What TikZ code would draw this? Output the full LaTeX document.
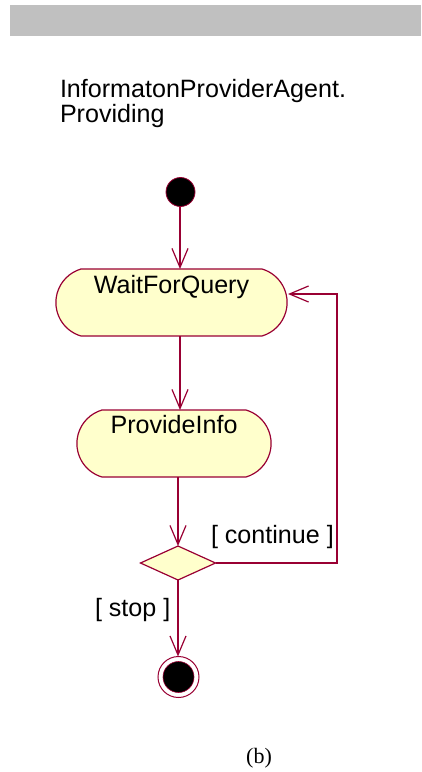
\documentclass[tikz,border=0pt]{standalone}
\usepackage{fontspec}
\setmainfont{Liberation Sans}
\newfontfamily\serifcap{Liberation Serif}
\usetikzlibrary{arrows.meta,calc,shapes.geometric}
\definecolor{umlline}{RGB}{153,0,51}
\definecolor{umlfill}{RGB}{255,255,204}
\definecolor{barfill}{RGB}{192,192,192}
\begin{document}
\begin{tikzpicture}[x=1pt,y=-1pt,
  every node/.style={inner sep=0pt, outer sep=0pt},
  txt/.style={font=\fontsize{25.1}{25}\selectfont, text=black},
  boxarea/.style={minimum width=#1, minimum height=67pt, draw=none},
  statebox/.style={draw=umlline, fill=umlfill, line width=1.2pt},
  flow/.style={draw=umlline, line width=1.2pt, -{Straight Barb[length=19pt,width=16pt,line width=1.2pt]}},
  decision/.style={diamond, draw=umlline, fill=umlfill, line width=1.2pt, minimum width=75pt, minimum height=34pt},
]
\useasboundingbox (0,0) rectangle (421,772);
\fill[barfill] (10,5) rectangle (421,36);

\node[txt, anchor=base west] (title1) at (60,97) {InformatonProviderAgent.};
\node[txt, anchor=base west] (title2) at (60,122) {Providing};

% start
\node[circle, fill=black, draw=umlline, line width=0.8pt, minimum size=29pt] (start) at (180.5,192) {};

% WaitForQuery
\node[boxarea=231pt] (wait) at (171.5,302.5) {};
\draw[statebox] ($(wait.north west)+(25,0)$) -- ($(wait.north east)+(-25,0)$)
  arc[start angle=-73.7, end angle=73.7, radius=34.9]
  -- ($(wait.south west)+(25,0)$)
  arc[start angle=106.3, end angle=253.7, radius=34.9] -- cycle;
\node[txt, anchor=base] (waitlabel) at (171.5,293) {WaitForQuery};

% ProvideInfo
\node[boxarea=194pt] (provide) at (174,443.5) {};
\draw[statebox] ($(provide.north west)+(25,0)$) -- ($(provide.north east)+(-25,0)$)
  arc[start angle=-73.7, end angle=73.7, radius=34.9]
  -- ($(provide.south west)+(25,0)$)
  arc[start angle=106.3, end angle=253.7, radius=34.9] -- cycle;
\node[txt, anchor=base] (providelabel) at (174,433) {ProvideInfo};

% decision
\node[decision] (dec) at (178,563) {};

% final
\node[circle, draw=umlline, fill=white, line width=1pt, minimum size=41pt] (endc) at (178.5,677) {};
\node[circle, fill=black, draw=umlline, line width=0.6pt, minimum size=31pt] (endi) at (endc.center) {};

\coordinate (loopc) at (337,294);
\coordinate (mid) at (180,0);

% connectors
\draw[flow] (start.south -| mid) -- (wait.north -| mid);
\draw[flow] (wait.south -| mid) -- (provide.north -| mid);
\draw[flow] (dec.north |- provide.south) -- (dec.north);
\draw[flow, shorten >=1pt] (dec.east) -| (loopc) -- (loopc -| wait.east);
\draw[flow] (dec.south) -- (dec.south |- endc.north);

\node[txt, anchor=base west] (contlabel) at (211,543) {[ continue ]};
\node[txt, anchor=base west] (stoplabel) at (95,616) {[ stop ]};

\node[anchor=base, font=\serifcap\fontsize{22}{22}\selectfont] (caption) at (259,763) {(b)};
\end{tikzpicture}
\end{document}
